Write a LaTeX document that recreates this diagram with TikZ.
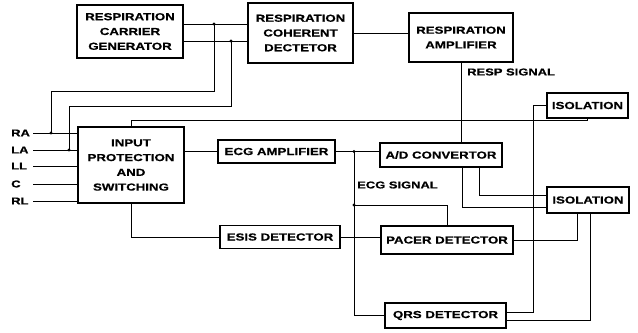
\documentclass[tikz,border=0pt]{standalone}
\usepackage{fontspec}
\setmainfont{Liberation Sans}[FakeStretch=1.3, BoldFeatures={FakeBold=0.6}]
\usetikzlibrary{positioning}

\begin{document}
\begin{tikzpicture}[x=0.03cm, y=-0.03cm,
  box/.style={draw, rectangle, line width=1.6pt, align=center, inner sep=0pt,
              font=\fontsize{8.7}{12.6}\selectfont\bfseries},
  lbl/.style={font=\fontsize{8.5}{10}\selectfont\bfseries, inner sep=0pt},
  inlbl/.style={lbl, anchor=west, text width=0.65cm, align=left},
  wire/.style={line width=0.7pt}
]
  \useasboundingbox (0,0) rectangle (638,333);

  \node[box, minimum width=3.18cm, minimum height=1.59cm] (gen)   at (130,31.5)  {RESPIRATION\\CARRIER\\GENERATOR};
  \node[box, minimum width=3.15cm, minimum height=1.80cm] (coh)   at (300.5,33)  {RESPIRATION\\COHERENT\\DECTETOR};
  \node[box, minimum width=3.12cm, minimum height=1.47cm] (ramp)  at (461,37.5)  {RESPIRATION\\AMPLIFIER};
  \node[box, minimum width=2.43cm, minimum height=0.75cm] (iso1)  at (587.5,105.5) {ISOLATION};
  \node[box, minimum width=3.18cm, minimum height=2.28cm] (inp)   at (131,165)   {INPUT\\PROTECTION\\AND\\SWITCHING};
  \node[box, minimum width=3.51cm, minimum height=0.69cm] (ecg)   at (276.5,151.5) {ECG AMPLIFIER};
  \node[box, minimum width=3.66cm, minimum height=0.72cm] (adc)   at (441,155)   {A/D CONVERTOR};
  \node[box, minimum width=2.46cm, minimum height=0.78cm] (iso2)  at (588,200)   {ISOLATION};
  \node[box, minimum width=3.60cm, minimum height=0.69cm] (esis)  at (280,237)   {ESIS DETECTOR};
  \node[box, minimum width=3.96cm, minimum height=0.84cm] (pacer) at (447,240)   {PACER DETECTOR};
  \node[box, minimum width=3.63cm, minimum height=0.75cm] (qrs)   at (445.5,315.5) {QRS DETECTOR};

  \node[inlbl] (ra) at (11,133) {RA};
  \node[inlbl] (la) at (11,150) {LA};
  \node[inlbl] (ll) at (11,166) {LL};
  \node[inlbl] (c)  at (11,184) {C};
  \node[inlbl] (rl) at (11,201) {RL};

  \node[lbl, anchor=west] (resp) at (467,72)  {RESP SIGNAL};
  \node[lbl, anchor=west] (ecgs) at (357,185) {ECG SIGNAL};

  \coordinate (j1)  at (214,24);
  \coordinate (j2)  at (231,41);
  \coordinate (jra) at (51,133);
  \coordinate (jla) at (69,150);
  \coordinate (e1)  at (354,151.5);
  \coordinate (e2)  at (354,205);
  \coordinate (a1)  at (462,207);
  \coordinate (a2)  at (479,195);
  \coordinate (p1)  at (577,240);
  \coordinate (q1)  at (533,312);
  \coordinate (q2)  at (590,320);

  \draw[wire] (gen.east |- j1) -- (coh.west |- j1);
  \draw[wire] (gen.east |- j2) -- (coh.west |- j2);
  \draw[wire] (j1) -- ++(0,67) -| (jra);
  \draw[wire] (j2) -- ++(0,65) -| (jla);
  \draw[wire] (coh.east) -- (ramp.west |- coh.east);
  \draw[wire] (ramp.south) -- (adc.north -| ramp.south);

  \draw[wire] (ra.east) -- (inp.west |- ra);
  \draw[wire] (la.east) -- (inp.west |- la);
  \draw[wire] (ll.east) -- (inp.west |- ll);
  \draw[wire] (c.east)  -- (inp.west |- c);
  \draw[wire] (rl.east) -- (inp.west |- rl);

  \draw[wire] (inp.north) -- ++(0,-6) -| (iso1.south);
  \draw[wire] (iso1.west) -| (q1) -- (qrs.east |- q1);
  \draw[wire] (iso2.south -| q2) -- (q2) -- (qrs.east |- q2);
  \draw[wire] (iso2.south -| p1) -- (p1) -- (pacer.east |- p1);
  \draw[wire] (adc.south -| a1) -- (a1) -- (iso2.west |- a1);
  \draw[wire] (adc.south -| a2) -- (a2) -- (iso2.west |- a2);

  \draw[wire] (inp.east |- ecg) -- (ecg.west);
  \draw[wire] (ecg.east) -- (adc.west |- ecg.east);
  \draw[wire] (e1) |- (qrs.west);
  \draw[wire] (e2) -| (pacer.north);
  \draw[wire] (inp.south) |- (esis.west);
  \draw[wire] (esis.east) -- (pacer.west |- esis.east);

  \foreach \j in {j1, j2, jra, jla, e1, e2}
    \fill (\j) circle (1.3pt);
\end{tikzpicture}
\end{document}
